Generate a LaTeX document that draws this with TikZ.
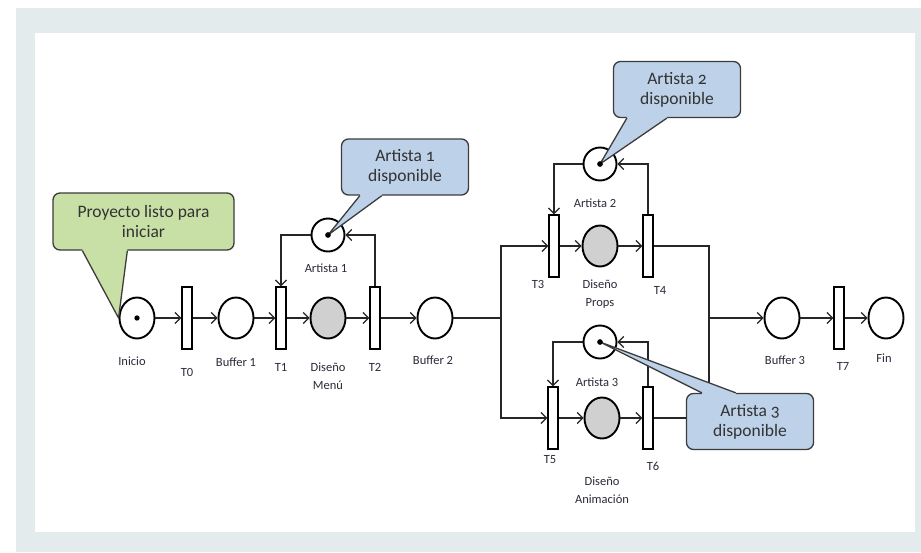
\documentclass[tikz,border=0pt]{standalone}
\usepackage{fontspec}
\setmainfont{Carlito}
\newfontfamily\callfont[Numbers=OldStyle]{Carlito}
\usetikzlibrary{arrows.meta,shapes.geometric,calc}
\definecolor{bggray}{HTML}{E4EBED}
\definecolor{greenfill}{HTML}{C8E0A6}
\definecolor{bluefill}{HTML}{BDD1E8}
\definecolor{edgecol}{HTML}{3C3C3C}
\definecolor{placefill}{HTML}{D0D0D0}
\definecolor{lblcol}{HTML}{2B2B3B}
\begin{document}
\begin{tikzpicture}[x=1pt,y=-1pt,
 place/.style={draw=black, ellipse, line width=1.9pt, minimum width=35pt, minimum height=41pt, inner sep=0pt, fill=white},
 res/.style={draw=black, circle, line width=1.9pt, minimum size=33pt, inner sep=0pt, fill=white},
 busy/.style={place, fill=placefill},
 trans/.style={draw=black, rectangle, line width=1.4pt, fill=white, minimum width=10pt, minimum height=62pt, inner sep=0pt},
 arr/.style={line width=1.2pt, draw=black!85, -{Straight Barb[length=5.5pt,width=11pt]}},
 link/.style={line width=1.2pt, draw=black!85},
 lbl/.style={font=\fontsize{12.5}{18}\selectfont, text=lblcol, align=center, inner sep=0pt},
 callbox/.style={draw=edgecol, line width=1.3pt, rounded corners=7pt, inner sep=0pt, align=center,
   font=\callfont\fontsize{17.5}{20}\selectfont, text=black!80, minimum width=127pt, minimum height=56pt},
 wedgeline/.style={draw=edgecol, line width=1.3pt, line join=round},
 ]
\useasboundingbox (0,0) rectangle (921,552);
\fill[bggray] (16,8) rectangle (921,552);
\fill[white] (35,33) rectangle (915,532);

% places
\node[place] (inicio) at (137,318) {};
\node[place] (b1) at (236,318) {};
\node[busy] (dm) at (328,318) {};
\node[place] (b2) at (435,318) {};
\node[res] (a1) at (328,235) {};
\node[res] (a2) at (600,164) {};
\node[busy] (props) at (600,246) {};
\node[res] (a3) at (600,342) {};
\node[busy] (anim) at (602,418) {};
\node[place] (b3) at (782,318) {};
\node[place] (fin) at (886,318) {};

% tokens
\foreach \p in {inicio,a1,a2,a3} \fill (\p.center) circle (2.7);

% transitions
\node[trans] (t0) at (187,318) {};
\node[trans] (t1) at (281,318) {};
\node[trans] (t2) at (375,318) {};
\node[trans] (t3) at (554,246) {};
\node[trans] (t4) at (648,246) {};
\node[trans] (t5) at (553,418) {};
\node[trans] (t6) at (648,418) {};
\node[trans] (t7) at (839,318) {};

\coordinate (split) at (501,318);
\coordinate (merge) at (709,318);

% labels
\node[lbl] (linicio) at (132,361) {Inicio};
\node[lbl] (lt0) at (187,372) {T0};
\node[lbl] (lb1) at (236,362) {Buffer 1};
\node[lbl] (lt1) at (281,367) {T1};
\node[lbl] (ldm) at (328,376) {Diseño\\Menú};
\node[lbl] (lt2) at (375,367) {T2};
\node[lbl] (lb2) at (433,360) {Buffer 2};
\node[lbl] (la1) at (326,268) {Artista 1};
\node[lbl] (la2) at (595,203) {Artista 2};
\node[lbl] (lt3) at (538,284) {T3};
\node[lbl] (lprops) at (600,294) {Diseño\\Props};
\node[lbl] (lt4) at (660,290) {T4};
\node[lbl] (la3) at (597,382) {Artista 3};
\node[lbl] (lt5) at (550,460) {T5};
\node[lbl] (lt6) at (653,466) {T6};
\node[lbl] (lanim) at (602,490) {Diseño\\Animación};
\node[lbl] (lb3) at (785,360) {Buffer 3};
\node[lbl] (lt7) at (843,366) {T7};
\node[lbl] (lfin) at (884,358) {Fin};

% main flow
\draw[arr] (inicio) -- (t0);
\draw[arr] (t0) -- (b1);
\draw[arr] (b1) -- (t1);
\draw[arr] (t1) -- (dm);
\draw[arr] (dm) -- (t2);
\draw[arr] (t2) -- (b2);
\draw[link] (b2) -- (split);
\draw[arr] (split) |- (t3.west);
\draw[arr] (split) |- (t5.west);
\draw[arr] (t3) -- (props);
\draw[arr] (props) -- (t4);
\draw[arr] (t5) -- (anim);
\draw[arr] (anim) -- (t6);
\draw[link] (t4.east) -| (merge);
\draw[link] (t6.east) -| (merge);
\draw[arr] (merge) -- (b3);
\draw[arr] (b3) -- (t7);
\draw[arr] (t7) -- (fin);

% resource loops
\draw[arr] (a1.west) -| (t1.north);
\draw[arr] (t2.north) |- (a1.east);
\draw[arr] (a2.west) -| (t3.north);
\draw[arr] (t4.north) |- (a2.east);
\draw[arr] (a3.west) -| (t5.north);
\draw[arr] (t6.north) |- (a3.east);

% callouts
\node[callbox, fill=greenfill, minimum width=181pt, minimum height=57pt] (c0) at (143.5,221.5) {Proyecto listo para\\iniciar};
\coordinate (w0a) at ($(c0.south west)+(30,0)$);
\coordinate (w0b) at ($(c0.south west)+(75,0)$);
\fill[greenfill] ($(w0a)+(0,-2)$) -- (w0a) -- (inicio.west) -- (w0b) -- ($(w0b)+(0,-2)$) -- cycle;
\draw[wedgeline] (w0a) -- (inicio.west) -- (w0b);

\node[callbox, fill=bluefill] (c1) at (405,167) {Artista 1\\disponible};
\coordinate (w1a) at ($(c1.south west)+(19,0)$);
\coordinate (w1b) at ($(c1.south west)+(41,0)$);
\fill[bluefill] ($(w1a)+(0,-2)$) -- (w1a) -- (a1.center) -- (w1b) -- ($(w1b)+(0,-2)$) -- cycle;
\draw[wedgeline] (w1a) -- (a1.center) -- (w1b);

\node[callbox, fill=bluefill] (c2) at (677,89.5) {Artista 2\\disponible};
\coordinate (w2a) at ($(c2.south west)+(14,0)$);
\coordinate (w2b) at ($(c2.south west)+(54,0)$);
\fill[bluefill] ($(w2a)+(0,-2)$) -- (w2a) -- (a2.center) -- (w2b) -- ($(w2b)+(0,-2)$) -- cycle;
\draw[wedgeline] (w2a) -- (a2.center) -- (w2b);

\node[callbox, fill=bluefill] (c3) at (750,421.5) {Artista 3\\disponible};
\coordinate (w3a) at ($(c3.north west)+(16,0)$);
\coordinate (w3b) at ($(c3.north west)+(50,0)$);
\fill[bluefill] ($(w3a)+(0,2)$) -- (w3a) -- (a3.center) -- (w3b) -- ($(w3b)+(0,2)$) -- cycle;
\draw[wedgeline] (w3a) -- (a3.center) -- (w3b);

\foreach \p in {a1,a2,a3} \fill (\p.center) circle (2.7);
\end{tikzpicture}
\end{document}
